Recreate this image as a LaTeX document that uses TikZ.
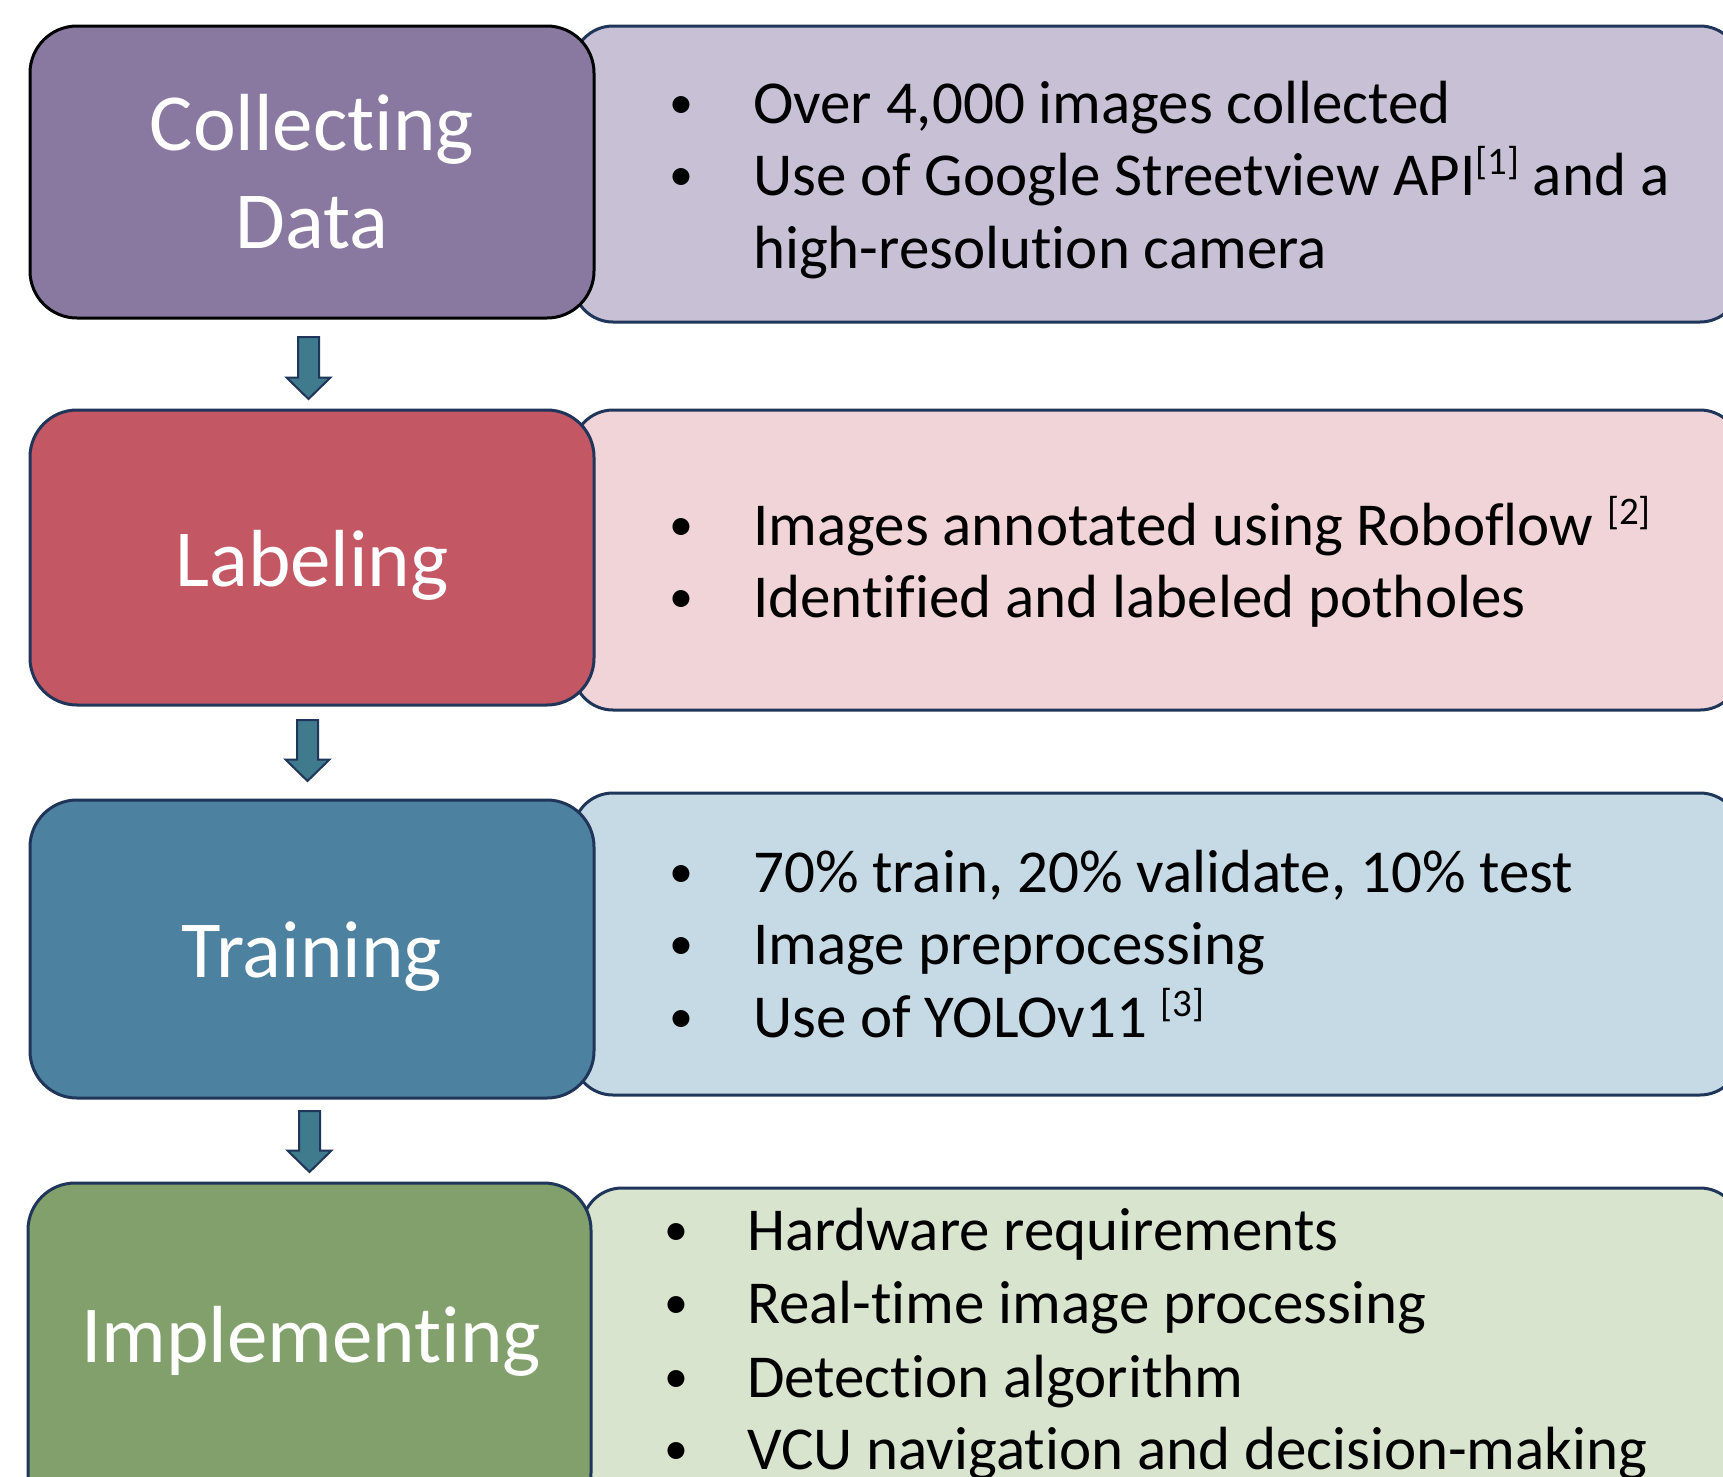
\documentclass[tikz,border=0pt]{standalone}
\usepackage{fontspec}
\setmainfont{Carlito}[Ligatures={NoCommon,NoContextual}, RawFeature=-liga, RawFeature=-calt, RawFeature=-clig]
\usetikzlibrary{calc}
\definecolor{navy}{HTML}{1F3559}
\definecolor{arrowc}{HTML}{3F7B8C}
\definecolor{purpleA}{HTML}{8979A1}
\definecolor{purpleB}{HTML}{C8C0D5}
\definecolor{redA}{HTML}{C35764}
\definecolor{redB}{HTML}{F0D4D8}
\definecolor{blueA}{HTML}{4D81A0}
\definecolor{blueB}{HTML}{C6DAE5}
\definecolor{greenA}{HTML}{82A06C}
\definecolor{greenB}{HTML}{D8E4CE}
\newcommand\supref[1]{\raisebox{21pt}{\fontsize{39}{39}\selectfont #1}}
\newcommand\blockarr[2]{%
  \draw[barrow] let \p1=(#1), \p2=(#2) in
    (\x1-10.5pt,\y1) -- (\x1+10.5pt,\y1) -- (\x1+10.5pt,\y2+21.5pt) --
    (\x1+22pt,\y2+21.5pt) -- (\x1,\y2) -- (\x1-22pt,\y2+21.5pt) --
    (\x1-10.5pt,\y2+21.5pt) -- cycle;}
\begin{document}
\begin{tikzpicture}[x=1pt,y=-1pt,
  leftbox/.style={rectangle, draw=navy, line width=3pt, rounded corners=47pt, minimum width=564pt, inner sep=0pt},
  rightbox/.style={rectangle, draw=navy, line width=3pt, rounded corners=40pt, inner sep=0pt},
  lbl/.style={text=white, font=\fontsize{81}{98}\selectfont, inner sep=0pt, anchor=base},
  item/.style={font=\fontsize{61}{73}\selectfont, inner sep=0pt, anchor=base west},
  bul/.style={font=\fontsize{48}{60}\selectfont, inner sep=0pt, anchor=base},
  barrow/.style={draw=navy, fill=arrowc, line width=2pt, line join=miter}]
\clip (0,0) rectangle (1723,1476);
\fill[white] (0,0) rectangle (1723,1476);

% right boxes
\node[rightbox, fill=purpleB, minimum width=1167pt, minimum height=296pt] (r1) at (1156.5,174) {};
\node[rightbox, fill=redB, minimum width=1167pt, minimum height=300pt] (r2) at (1156.5,560) {};
\node[rightbox, fill=blueB, minimum width=1167pt, minimum height=302pt] (r3) at (1156.5,944) {};
\node[rightbox, fill=greenB, minimum width=1158pt, minimum height=332pt] (r4) at (1161,1354) {};

% left boxes
\node[leftbox, draw=black, fill=purpleA, minimum height=292pt] (c1) at (312,172) {};
\node[leftbox, fill=redA, minimum height=295pt] (c2) at (312,557.5) {};
\node[leftbox, fill=blueA, minimum height=298pt] (c3) at (312,949) {};
\node[leftbox, fill=greenA, minimum width=563pt, minimum height=337pt] (c4) at (309.5,1351.5) {};

% left labels
\node[lbl] (t1a) at (312,150) {Collect\kern0pt ing};
\node[lbl] (t1b) at (312,248) {Data};
\node[lbl] (t2) at (312,586) {Labeling};
\node[lbl] (t3) at (312,977) {Training};
\node[lbl] (t4) at (311,1362) {Implement\kern0pt ing};

% arrows
\coordinate (a1s) at (308.5,337); \coordinate (a1e) at (308.5,399);
\coordinate (a2s) at (307.5,720); \coordinate (a2e) at (307.5,781);
\coordinate (a3s) at (309.5,1111); \coordinate (a3e) at (309.5,1172);
\blockarr{a1s}{a1e}
\blockarr{a2s}{a2e}
\blockarr{a3s}{a3e}

% box 1 items
\node[bul] (b11) at (681,118) {•};
\node[item] (i11) at (753,123) {Over 4,000 images collected};
\node[bul] (b12) at (681,190) {•};
\node[item] (i12) at (753,195) {Use of Google Streetview API\supref{[1]} and a};
\node[item] (i13) at (753,268) {high-resolut\kern0pt ion camera};

% box 2 items
\node[bul] (b21) at (681,540) {•};
\node[item] (i21) at (753,545) {Images annotated using Roboflow \supref{[2]}};
\node[bul] (b22) at (681,612) {•};
\node[item] (i22) at (753,617) {Ident\kern0pt ified and labeled potholes};

% box 3 items
\node[bul] (b31) at (681,887) {•};
\node[item] (i31) at (753,892) {70\% train, 20\% validate, 10\% test};
\node[bul] (b32) at (681,959) {•};
\node[item] (i32) at (753,964) {Image preprocessing};
\node[bul] (b33) at (681,1032) {•};
\node[item] (i33) at (753,1037) {Use of YOLOv11 \supref{[3]}};

% box 4 items
\node[bul] (b41) at (676,1245) {•};
\node[item] (i41) at (747,1250) {Hardware requirements};
\node[bul] (b42) at (676,1318) {•};
\node[item] (i42) at (747,1323) {Real-t\kern0pt ime image processing};
\node[bul] (b43) at (676,1392) {•};
\node[item] (i43) at (747,1397) {Detect\kern0pt ion algorithm};
\node[bul] (b44) at (676,1464) {•};
\node[item] (i44) at (747,1469) {VCU navigat\kern0pt ion and decision-making};
\end{tikzpicture}
\end{document}
